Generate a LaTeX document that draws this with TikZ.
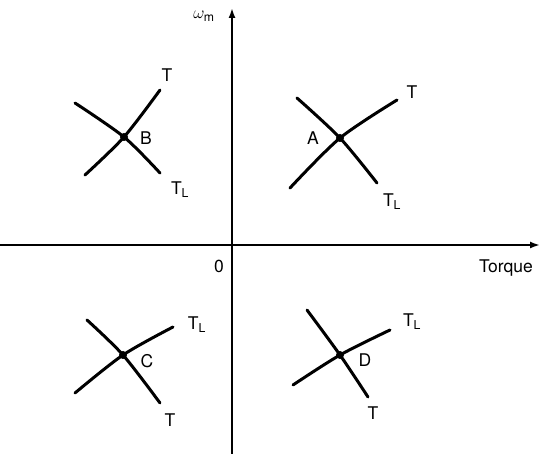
\documentclass[tikz,border=0pt]{standalone}
\usepackage{fontspec}
\setmainfont{TeX Gyre Heros}
\usepackage{tikz}
\usetikzlibrary{arrows.meta,positioning}

\begin{document}
\begin{tikzpicture}[
  x=1pt, y=-1pt,
  axis/.style={line width=1.8pt, -{Latex[length=10pt,width=7pt]}},
  crv/.style={line width=3pt, line cap=round},
  pt/.style={circle, fill=black, inner sep=0pt, minimum size=8pt},
  lbl/.style={font=\fontsize{17.5}{20}\selectfont, inner sep=1pt},
]
\useasboundingbox (0,0) rectangle (541,454);

% Axes
\coordinate (ybot) at (232,454);
\coordinate (ytop) at (232,8);
\coordinate (xleft) at (0,245);
\coordinate (xright) at (540,245);
\draw[axis] (ybot) -- (ytop);
\draw[axis] (xleft) -- (xright);
\node[lbl] (wm) at (204,16) {$\omega_{\mathrm{m}}$};
\node[lbl] (zero) at (219,266) {0};
\node[lbl] (torque) at (506,268) {Torque};

% Operating point A
\coordinate (A) at (340,138);
\coordinate (a1) at (290,188);
\coordinate (a2) at (397,100);
\coordinate (a3) at (297,98);
\coordinate (a4) at (377,183);
\draw[crv] plot[smooth] coordinates {(a1) (A) (a2)};
\draw[crv] plot[smooth] coordinates {(a3) (A) (a4)};
\node[pt] at (A) {};
\node[lbl] (la) at (313,138) {A};
\node[lbl] (ta) at (412,92) {T};
\node[lbl] (tla) at (392,202) {T$_{\mathrm{L}}$};

% Operating point B
\coordinate (B) at (124,137);
\coordinate (b1) at (85,175);
\coordinate (b2) at (160,90);
\coordinate (b3) at (75,103);
\coordinate (b4) at (160,173);
\draw[crv] plot[smooth] coordinates {(b1) (B) (b2)};
\draw[crv] plot[smooth] coordinates {(b3) (B) (b4)};
\node[pt] at (B) {};
\node[lbl] (lb) at (146,138) {B};
\node[lbl] (tb) at (167,75) {T};
\node[lbl] (tlb) at (180,190) {T$_{\mathrm{L}}$};

% Operating point C
\coordinate (C) at (123,355);
\coordinate (c1) at (75,393);
\coordinate (c2) at (173,327);
\coordinate (c3) at (87,320);
\coordinate (c4) at (160,403);
\draw[crv] plot[smooth] coordinates {(c1) (C) (c2)};
\draw[crv] plot[smooth] coordinates {(c3) (C) (c4)};
\node[pt] at (C) {};
\node[lbl] (lc) at (147,361) {C};
\node[lbl] (tc) at (170,420) {T};
\node[lbl] (tlc) at (197,325) {T$_{\mathrm{L}}$};

% Operating point D
\coordinate (D) at (340,355);
\coordinate (d1) at (293,385);
\coordinate (d2) at (390,330);
\coordinate (d3) at (307,310);
\coordinate (d4) at (368,397);
\draw[crv] plot[smooth] coordinates {(d1) (D) (d2)};
\draw[crv] plot[smooth] coordinates {(d3) (D) (d4)};
\node[pt] at (D) {};
\node[lbl] (ld) at (365,360) {D};
\node[lbl] (td) at (373,413) {T};
\node[lbl] (tld) at (412,322) {T$_{\mathrm{L}}$};

\end{tikzpicture}
\end{document}
